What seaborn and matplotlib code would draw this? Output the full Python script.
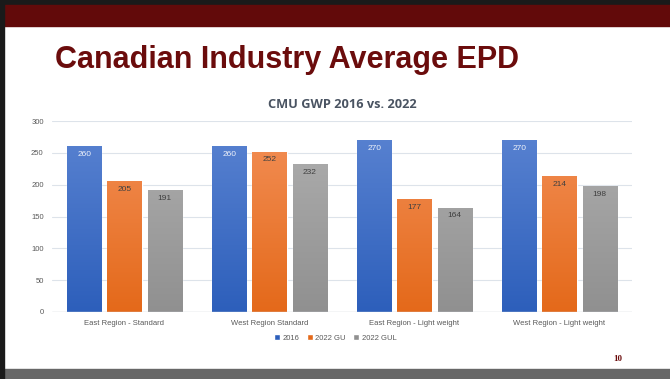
import numpy as np
import pandas as pd
import matplotlib
matplotlib.use("Agg")
import matplotlib.pyplot as plt
import seaborn as sns
from matplotlib.patches import Patch, Rectangle
from matplotlib.colors import LinearSegmentedColormap

# data
regions = ["East Region - Standard", "West Region Standard",
           "East Region - Light weight", "West Region - Light weight"]
series = ["2016", "2022 GU", "2022 GUL"]
vals_2016 = [260, 260, 270, 270]
vals_gu = [205, 252, 177, 214]
vals_gul = [191, 232, 164, 198]

df = pd.DataFrame({
    "region": regions * 3,
    "series": [series[0]] * 4 + [series[1]] * 4 + [series[2]] * 4,
    "gwp": vals_2016 + vals_gu + vals_gul,
})

# top / bottom colours of the gradient fill
grad = {
    "2016": ("#5b84d2", "#2d5fbb"),
    "2022 GU": ("#f39058", "#e4691a"),
    "2022 GUL": ("#b0b0b0", "#909090"),
}
label_col = {"2016": "#eef2fa", "2022 GU": "#404040", "2022 GUL": "#404040"}

sns.set_style("white")
plt.rcParams["font.family"] = ["Liberation Sans", "DejaVu Sans"]

fig = plt.figure(figsize=(6.7, 3.79), dpi=100)

# slide decoration
fig.patches.append(Rectangle((0, 1 - 5 / 379), 1, 5 / 379, transform=fig.transFigure,
                             color="#1a1a1a", zorder=0))
fig.patches.append(Rectangle((0, 1 - 26 / 379), 1, 21 / 379, transform=fig.transFigure,
                             color="#620a0a", zorder=0))
fig.patches.append(Rectangle((0, 0), 1, 10 / 379, transform=fig.transFigure,
                             color="#676767", zorder=0))
fig.patches.append(Rectangle((0, 0), 4 / 670, 1, transform=fig.transFigure,
                             color="#1a1a1a", zorder=0))

fig.text(55 / 670, 1 - 60 / 379, "Canadian Industry Average EPD", fontsize=22,
         fontweight="bold", color="#6b0c0c", va="center", ha="left")
fig.text(618 / 670, 1 - 359 / 379, "10", fontsize=6.5, fontweight="bold",
         color="#6b0c0c", family="Liberation Serif", ha="center", va="center")

ax = fig.add_axes([52 / 670, 1 - 312 / 379, 580 / 670, 191 / 379])
sns.barplot(data=df, x="region", y="gwp", hue="series", order=regions,
            hue_order=series, palette=[grad[s][1] for s in series],
            width=0.83, gap=0.15, legend=False, ax=ax)

cmaps = {s: LinearSegmentedColormap.from_list(s, [grad[s][1], grad[s][0]]) for s in series}
for s, cont in zip(series, ax.containers):
    for bar in cont:
        x0, y0 = bar.get_x(), bar.get_y()
        w, h = bar.get_width(), bar.get_height()
        g = np.linspace(0, 1, 256).reshape(-1, 1)
        im = ax.imshow(g, cmap=cmaps[s], origin="lower", aspect="auto",
                       extent=[x0, x0 + w, 0, 300], zorder=2)
        im.set_clip_path(bar)
        ax.annotate(f"{int(h)}", (x0 + w / 2, h), xytext=(0, -6),
                    textcoords="offset points", ha="center", va="center",
                    fontsize=6, color=label_col[s], zorder=3)

ax.set_xlim(-0.5, 3.5)
ax.set_ylim(0, 300)
ax.set_yticks(range(0, 301, 50))
ax.yaxis.grid(True, color="#dde3ea", linewidth=0.8)
ax.set_axisbelow(True)
for sp in ax.spines.values():
    sp.set_visible(False)
ax.axhline(0, color="#d0d6de", linewidth=1, zorder=4)
ax.tick_params(axis="both", length=0, labelsize=5.5, labelcolor="#595959")
ax.tick_params(axis="y", pad=6)
ax.tick_params(axis="x", pad=6)
ax.set_xlabel("")
ax.set_ylabel("")
ax.set_title("CMU GWP 2016 vs. 2022", fontsize=9.2, fontweight="bold",
             color="#4a5462", pad=9, family=["Open Sans", "DejaVu Sans"])

handles = [Patch(facecolor=grad[s][1], label=s) for s in series]
fig.legend(handles=handles, loc="center", bbox_to_anchor=(0.5, 1 - 338 / 379),
           ncol=3, frameon=False, fontsize=5.5, handlelength=0.8, handleheight=0.8,
           handletextpad=0.3, columnspacing=1.0, labelcolor="#595959")

fig.savefig("out.png", dpi=100)
